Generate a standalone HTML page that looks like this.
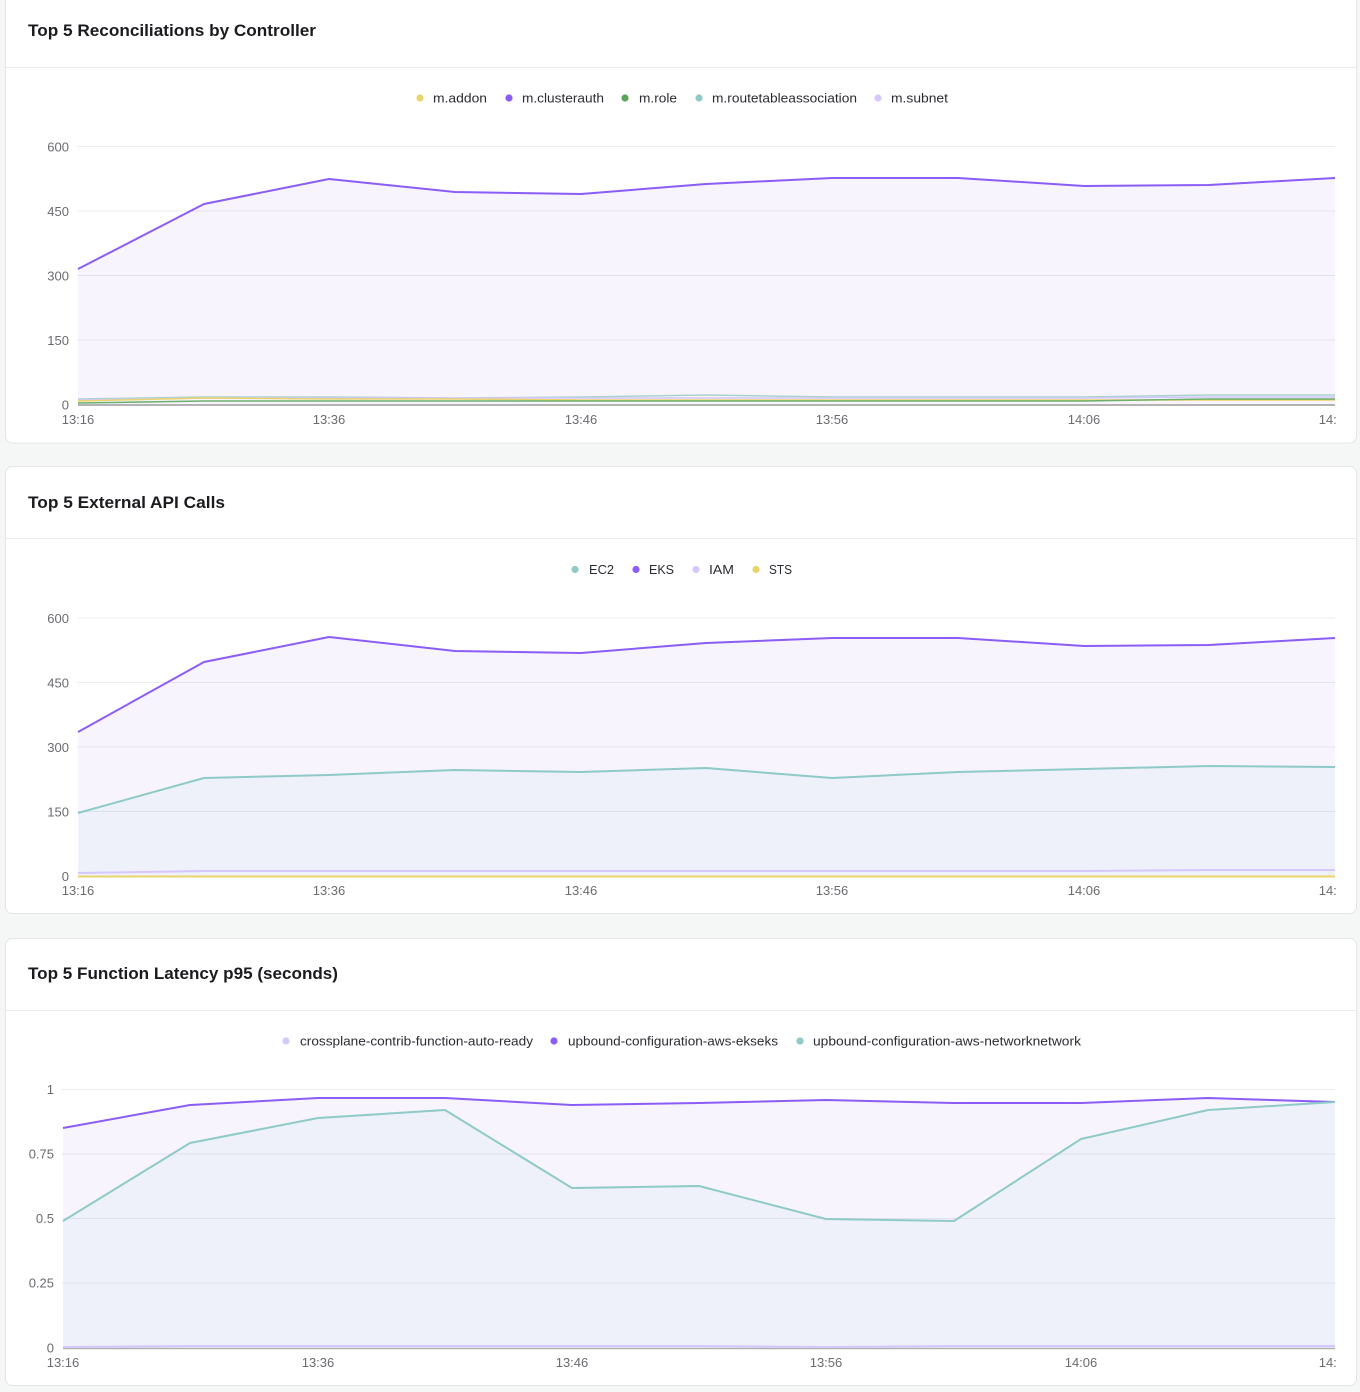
<!DOCTYPE html>
<html><head><meta charset="utf-8"><style>
html,body{margin:0;padding:0;background:#f5f6f6;}
svg{display:block;}
text{font-family:"Liberation Sans",sans-serif;}
.t{font-size:17px;font-weight:bold;fill:#1b1b1f;}
.lg{font-size:13px;fill:#2b2b33;}
.ax{font-size:13px;fill:#6b6b70;}
.g{stroke:#ebebef;stroke-width:1;}
</style></head><body>
<svg width="1360" height="1392" viewBox="0 0 1360 1392" xmlns="http://www.w3.org/2000/svg">
<defs>
<clipPath id="c1"><rect x="0" y="0" width="1336" height="1392"/></clipPath>
</defs>
<rect x="0" y="0" width="1360" height="1392" fill="#f5f6f6"/>

<!-- Card 1 -->
<rect x="5.5" y="-6" width="1351" height="449" rx="7" fill="#fff" stroke="#e3e5e7"/>
<line x1="6" y1="67.5" x2="1356" y2="67.5" stroke="#e8e9eb"/>
<text class="t" x="28" y="36" textLength="288" lengthAdjust="spacingAndGlyphs">Top 5 Reconciliations by Controller</text>
<g class="lg">
<circle cx="420" cy="98" r="3.6" fill="#ebd36b"/><text x="433" y="102.5" textLength="54" lengthAdjust="spacingAndGlyphs">m.addon</text>
<circle cx="509" cy="98" r="3.6" fill="#8b5cf6"/><text x="522" y="102.5" textLength="82" lengthAdjust="spacingAndGlyphs">m.clusterauth</text>
<circle cx="625" cy="98" r="3.6" fill="#5ba55b"/><text x="639" y="102.5" textLength="38" lengthAdjust="spacingAndGlyphs">m.role</text>
<circle cx="699" cy="98" r="3.6" fill="#8ecac6"/><text x="712" y="102.5" textLength="145" lengthAdjust="spacingAndGlyphs">m.routetableassociation</text>
<circle cx="878" cy="98" r="3.6" fill="#d6c7fc"/><text x="891" y="102.5" textLength="57" lengthAdjust="spacingAndGlyphs">m.subnet</text>
</g>
<g>
<line class="g" x1="77" y1="146.5" x2="1335" y2="146.5"/>
<line class="g" x1="77" y1="211" x2="1335" y2="211"/>
<line class="g" x1="77" y1="275.5" x2="1335" y2="275.5"/>
<line class="g" x1="77" y1="340" x2="1335" y2="340"/>
</g>
<g class="ax" text-anchor="end">
<text x="69" y="151.5">600</text><text x="69" y="216">450</text><text x="69" y="280.5">300</text><text x="69" y="345">150</text><text x="69" y="409.5">0</text>
</g>
<polygon points="78,269 204,204 329,179 455,192 581,194 706,184 832,178 958,178 1084,186 1209,185 1335,178 1335,405 78,405" fill="rgba(139,92,246,0.065)"/>
<polyline points="78,269 204,204 329,179 455,192 581,194 706,184 832,178 958,178 1084,186 1209,185 1335,178" fill="none" stroke="#8b5cf6" stroke-width="2" stroke-linejoin="round"/>
<polyline points="78,399 204,397 329,397 455,398 581,397 706,395 832,397 958,397 1084,397 1209,395 1335,395" fill="none" stroke="#a9d3cf" stroke-width="1.5"/>
<polyline points="78,400 204,398 329,398 455,398 581,398 706,398 832,398 958,398 1084,398 1209,397 1335,397" fill="none" stroke="#d6c7fc" stroke-width="1.5"/>
<polyline points="78,401 204,398 329,399 455,399 581,400 706,400 832,400 958,400 1084,400 1209,400 1335,400" fill="none" stroke="#ebd36b" stroke-width="1.5"/>
<polyline points="78,403 204,401 329,401 455,401 581,401 706,401 832,401 958,401 1084,401 1209,399 1335,399" fill="none" stroke="#6bb06b" stroke-width="1.5"/>
<line x1="78" y1="405" x2="1335" y2="405" stroke="#b3b3b3" stroke-width="2"/>
<g class="ax" text-anchor="middle" clip-path="url(#c1)">
<text x="78" y="424">13:16</text><text x="329" y="424">13:36</text><text x="581" y="424">13:46</text><text x="832" y="424">13:56</text><text x="1084" y="424">14:06</text><text x="1335" y="424">14:16</text>
</g>

<!-- Card 2 -->
<rect x="5.5" y="466.5" width="1351" height="447" rx="7" fill="#fff" stroke="#e3e5e7"/>
<line x1="6" y1="538.5" x2="1356" y2="538.5" stroke="#e8e9eb"/>
<text class="t" x="28" y="508" textLength="197" lengthAdjust="spacingAndGlyphs">Top 5 External API Calls</text>
<g class="lg">
<circle cx="575" cy="569.5" r="3.6" fill="#8ecac6"/><text x="589" y="574" textLength="25" lengthAdjust="spacingAndGlyphs">EC2</text>
<circle cx="636" cy="569.5" r="3.6" fill="#8b5cf6"/><text x="649" y="574" textLength="25" lengthAdjust="spacingAndGlyphs">EKS</text>
<circle cx="696" cy="569.5" r="3.6" fill="#d6c7fc"/><text x="709" y="574" textLength="25" lengthAdjust="spacingAndGlyphs">IAM</text>
<circle cx="756" cy="569.5" r="3.6" fill="#ebd36b"/><text x="769" y="574" textLength="23" lengthAdjust="spacingAndGlyphs">STS</text>
</g>
<g>
<line class="g" x1="77" y1="618" x2="1335" y2="618"/>
<line class="g" x1="77" y1="682.5" x2="1335" y2="682.5"/>
<line class="g" x1="77" y1="747" x2="1335" y2="747"/>
<line class="g" x1="77" y1="811.5" x2="1335" y2="811.5"/>
</g>
<g class="ax" text-anchor="end">
<text x="69" y="623">600</text><text x="69" y="687.5">450</text><text x="69" y="752">300</text><text x="69" y="816.5">150</text><text x="69" y="881">0</text>
</g>
<polygon points="78,732 204,662 329,637 455,651 581,653 706,643 832,638 958,638 1084,646 1209,645 1335,638 1335,876 78,876" fill="rgba(139,92,246,0.065)"/>
<polygon points="78,813 204,778 329,775 455,770 581,772 706,768 832,778 958,772 1084,769 1209,766 1335,767 1335,876 78,876" fill="rgba(142,202,198,0.08)"/>
<polyline points="78,732 204,662 329,637 455,651 581,653 706,643 832,638 958,638 1084,646 1209,645 1335,638" fill="none" stroke="#8b5cf6" stroke-width="2" stroke-linejoin="round"/>
<polyline points="78,813 204,778 329,775 455,770 581,772 706,768 832,778 958,772 1084,769 1209,766 1335,767" fill="none" stroke="#8ecac6" stroke-width="2" stroke-linejoin="round"/>
<polyline points="78,873 204,871 329,871 455,871 581,871 706,871 832,871 958,871 1084,871 1209,870 1335,870" fill="none" stroke="#d6c7fc" stroke-width="2"/>
<line x1="78" y1="876.5" x2="1335" y2="876.5" stroke="#ebd36b" stroke-width="2"/>
<g class="ax" text-anchor="middle" clip-path="url(#c1)">
<text x="78" y="895">13:16</text><text x="329" y="895">13:36</text><text x="581" y="895">13:46</text><text x="832" y="895">13:56</text><text x="1084" y="895">14:06</text><text x="1335" y="895">14:16</text>
</g>

<!-- Card 3 -->
<rect x="5.5" y="938.5" width="1351" height="447" rx="7" fill="#fff" stroke="#e3e5e7"/>
<line x1="6" y1="1010.5" x2="1356" y2="1010.5" stroke="#e8e9eb"/>
<text class="t" x="28" y="979" textLength="310" lengthAdjust="spacingAndGlyphs">Top 5 Function Latency p95 (seconds)</text>
<g class="lg">
<circle cx="286" cy="1041" r="3.6" fill="#d6c7fc"/><text x="300" y="1045.5" textLength="233" lengthAdjust="spacingAndGlyphs">crossplane-contrib-function-auto-ready</text>
<circle cx="554" cy="1041" r="3.6" fill="#8b5cf6"/><text x="568" y="1045.5" textLength="210" lengthAdjust="spacingAndGlyphs">upbound-configuration-aws-ekseks</text>
<circle cx="800" cy="1041" r="3.6" fill="#8ecac6"/><text x="813" y="1045.5" textLength="268" lengthAdjust="spacingAndGlyphs">upbound-configuration-aws-networknetwork</text>
</g>
<g>
<line class="g" x1="62" y1="1089.5" x2="1335" y2="1089.5"/>
<line class="g" x1="62" y1="1154" x2="1335" y2="1154"/>
<line class="g" x1="62" y1="1218.5" x2="1335" y2="1218.5"/>
<line class="g" x1="62" y1="1283" x2="1335" y2="1283"/>
</g>
<g class="ax" text-anchor="end">
<text x="54" y="1094">1</text><text x="54" y="1158.5">0.75</text><text x="54" y="1223">0.5</text><text x="54" y="1287.5">0.25</text><text x="54" y="1352.5">0</text>
</g>
<polygon points="63,1128 190,1105 318,1098 445,1098 572,1105 699,1103 826,1100 954,1103 1081,1103 1208,1098 1335,1102 1335,1348 63,1348" fill="rgba(139,92,246,0.065)"/>
<polygon points="63,1221 190,1143 318,1118 445,1110 572,1188 699,1186 826,1219 954,1221 1081,1139 1208,1110 1335,1102 1335,1348 63,1348" fill="rgba(142,202,198,0.08)"/>
<polyline points="63,1128 190,1105 318,1098 445,1098 572,1105 699,1103 826,1100 954,1103 1081,1103 1208,1098 1335,1102" fill="none" stroke="#8b5cf6" stroke-width="2" stroke-linejoin="round"/>
<polyline points="63,1221 190,1143 318,1118 445,1110 572,1188 699,1186 826,1219 954,1221 1081,1139 1208,1110 1335,1102" fill="none" stroke="#8ecac6" stroke-width="2" stroke-linejoin="round"/>
<line x1="63" y1="1348.5" x2="1335" y2="1348.5" stroke="#b3b3b3" stroke-width="1.5"/>
<polyline points="63,1347 190,1346 318,1346 445,1346 572,1346 699,1346 826,1347 954,1346 1081,1346 1208,1346 1335,1346" fill="none" stroke="#d6c7fc" stroke-width="2"/>
<g class="ax" text-anchor="middle" clip-path="url(#c1)">
<text x="63" y="1367">13:16</text><text x="318" y="1367">13:36</text><text x="572" y="1367">13:46</text><text x="826" y="1367">13:56</text><text x="1081" y="1367">14:06</text><text x="1335" y="1367">14:16</text>
</g>
</svg>
</body></html>
